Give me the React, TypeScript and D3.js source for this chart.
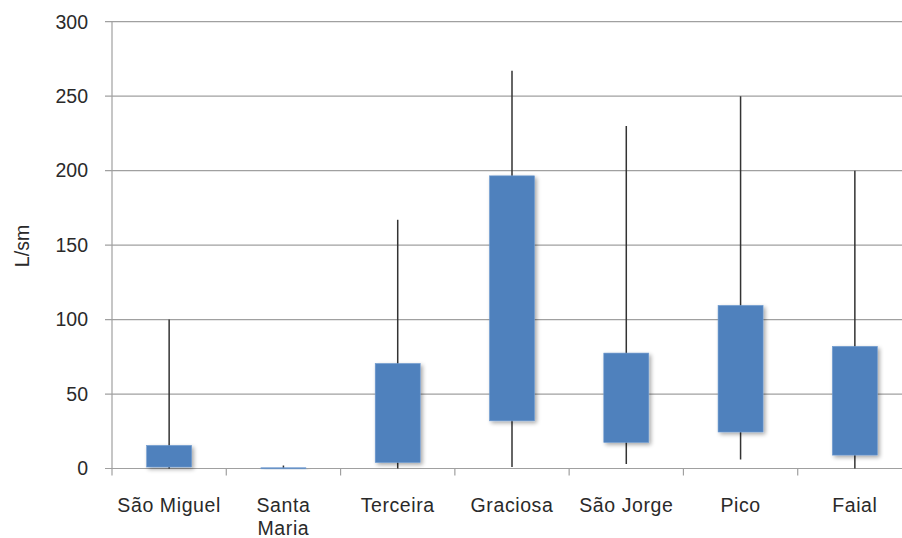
import React from "react";
import * as d3 from "d3";

const categories = ["São Miguel", "Santa Maria", "Terceira", "Graciosa", "São Jorge", "Pico", "Faial"];
const minValues = [0, 0, 0, 1, 3, 6, 0];
const q1Values = [1, 0, 4, 32, 17.5, 24.5, 9];
const q3Values = [15.5, 0.5, 70.5, 196.5, 77.5, 109.5, 82];
const maxValues = [100, 2, 167, 267, 230, 250, 200];
const yTicks = [0, 50, 100, 150, 200, 250, 300];
const yLabel = "L/sm";

const W = 902;
const H = 538;
const left = 112;
const right = 912;
const top = 21.7;
const bottom = 468.5;
const font = "'Liberation Sans', Arial, sans-serif";

export default function App() {
  const x = d3.scaleBand<string>().domain(categories).range([left, right]).padding(0);
  const y = d3.scaleLinear().domain([0, 300]).range([bottom, top]);
  const boxW = 45;
  const bw = x.bandwidth();
  const splitLabel = (s: string) => (s === "Santa Maria" ? ["Santa", "Maria"] : [s]);

  return (
    <svg width={W} height={H} style={{ position: "absolute", left: 0, top: 0, background: "#fff" }}>
      <defs>
        <filter id="shadow" x="-20%" y="-20%" width="150%" height="150%">
          <feGaussianBlur in="SourceAlpha" stdDeviation="2" />
          <feOffset dx="1.5" dy="2" result="b" />
          <feComponentTransfer>
            <feFuncA type="linear" slope="0.35" />
          </feComponentTransfer>
          <feMerge>
            <feMergeNode />
            <feMergeNode in="SourceGraphic" />
          </feMerge>
        </filter>
      </defs>
      {yTicks.map((t) => (
        <g key={t}>
          <line x1={105} x2={right} y1={y(t)} y2={y(t)} stroke="#a0a0a0" strokeWidth={1.2} />
          <text x={88} y={y(t)} dy="0.35em" textAnchor="end" fontFamily={font} fontSize={19.5} fill="#2a2a2a">
            {t}
          </text>
        </g>
      ))}
      <line x1={left} x2={left} y1={top} y2={bottom} stroke="#a0a0a0" strokeWidth={1.2} />
      {categories.map((c, i) => (
        <line key={"t" + i} x1={(x(c) as number)} x2={(x(c) as number)} y1={bottom} y2={bottom + 7} stroke="#a0a0a0" strokeWidth={1.2} />
      ))}
      {categories.map((c, i) => {
        const cx = (x(c) as number) + bw / 2;
        return (
          <line key={"w" + i} x1={cx} x2={cx} y1={y(maxValues[i])} y2={y(minValues[i])} stroke="#333" strokeWidth={1.5} />
        );
      })}
      {categories.map((c, i) => {
        const cx = (x(c) as number) + bw / 2;
        const yt = y(q3Values[i]);
        const yb = y(q1Values[i]);
        return (
          <rect
            key={"b" + i}
            x={cx - boxW / 2}
            y={yt}
            width={boxW}
            height={Math.max(yb - yt, 1)}
            fill="#4f81bd"
            stroke="#6f9bd0"
            strokeWidth={0.6}
            filter="url(#shadow)"
          />
        );
      })}
      {categories.map((c, i) => {
        const cx = (x(c) as number) + bw / 2;
        return (
          <text key={"l" + i} x={cx} y={511.5} textAnchor="middle" fontFamily={font} fontSize={19.5} letterSpacing={0.6} fill="#2a2a2a">
            {splitLabel(c).map((s, j) => (
              <tspan key={j} x={cx} dy={j === 0 ? 0 : 23.5}>
                {s}
              </tspan>
            ))}
          </text>
        );
      })}
      <text
        transform={`translate(29,246) rotate(-90)`}
        textAnchor="middle"
        fontFamily={font}
        fontSize={19.5}
        fill="#2a2a2a"
      >
        {yLabel}
      </text>
    </svg>
  );
}
